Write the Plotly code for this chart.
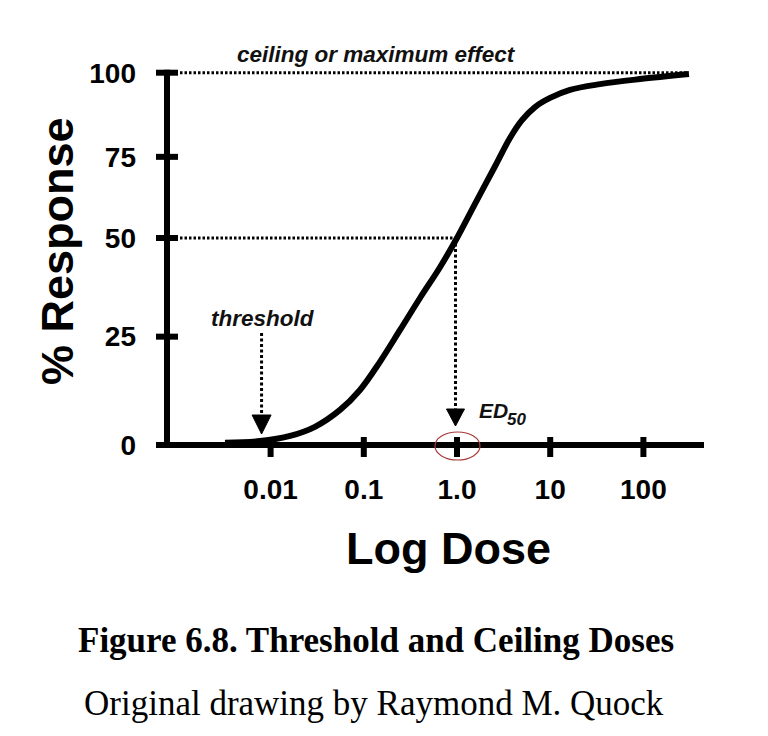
import numpy as np
import plotly.graph_objects as go

# ---------------- data ----------------
curve_dose = [0.00324, 0.00769, 0.0162, 0.0299, 0.0556, 0.091, 0.149, 0.245, 0.401,
              0.657, 1.0, 1.56, 2.56, 3.70, 4.98, 6.87, 9.96, 16.3, 34.2, 91.8, 308]
curve_response = [0.5, 0.9, 2.1, 4.2, 8.1, 12.7, 19.2, 26.7, 34.8,
                  42.6, 50.0, 60.5, 72.1, 80.6, 85.9, 89.8, 92.5, 94.9, 96.6, 98.1, 99.6]

dose_ticks = [0.01, 0.1, 1.0, 10, 100]
dose_labels = ["0.01", "0.1", "1.0", "10", "100"]
response_ticks = [0, 25, 50, 75, 100]
response_labels = ["0", "25", "50", "75", "100"]
# the hand-drawn axis places its ticks unevenly (position on a 0-100 axis length)
response_tick_pos = [0, 29.1, 55.6, 77.4, 100]

threshold_dose = 0.008
ed50_dose = 1.0
ed50_response = 50
ceiling_response = 100

# ---------------- layout geometry ----------------
W, H = 768, 736
L, R, T, B = 145, 17, 32, 266
PX_PER_DECADE = 93.2
X_ORIGIN_PX = 457.0          # pixel of dose 1.0
Y_ZERO_PX, Y_FULL_PX = 445.0, 72.7


def X(px):
    return (px - X_ORIGIN_PX) / PX_PER_DECADE


def Y(py):
    return (Y_ZERO_PX - py) / (Y_ZERO_PX - Y_FULL_PX) * 100


def PX(px):
    return (px - L) / (W - L - R)


def PY(py):
    return (H - B - py) / (H - B - T)


def ypos(r):
    return np.interp(r, response_ticks, response_tick_pos)


lx = np.log10(curve_dose)
ly = ypos(np.array(curve_response))

AXIS_X = X(167)
SANS = "Liberation Sans, Arial, sans-serif"
SERIF = "Liberation Serif, Times New Roman, serif"

fig = go.Figure()
fig.add_trace(go.Scatter(x=lx, y=ly, mode="lines",
                         line=dict(color="black", width=6, shape="spline", smoothing=1.0),
                         hoverinfo="skip", showlegend=False))

shapes = []
# axes
shapes.append(dict(type="line", xref="x", yref="y", x0=X(156), x1=X(704), y0=0, y1=0,
                   line=dict(color="black", width=6)))
shapes.append(dict(type="line", xref="x", yref="y", x0=AXIS_X, x1=AXIS_X, y0=Y(447), y1=100 + 0.8,
                   line=dict(color="black", width=6)))
# y ticks (crossing)
for v in response_ticks:
    yy = ypos(v)
    shapes.append(dict(type="line", xref="x", yref="y", xsizemode="pixel", xanchor=AXIS_X,
                       x0=-11, x1=11, y0=yy, y1=yy, line=dict(color="black", width=6)))
# x ticks (crossing)
for d in dose_ticks:
    xx = np.log10(d)
    shapes.append(dict(type="line", xref="x", yref="y", ysizemode="pixel", yanchor=0,
                       y0=-12, y1=8, x0=xx, x1=xx, line=dict(color="black", width=6)))
# ceiling dotted line
shapes.append(dict(type="line", xref="x", yref="y", x0=X(180), x1=np.log10(curve_dose[-1]),
                   y0=ypos(ceiling_response), y1=ypos(ceiling_response),
                   line=dict(color="black", width=3, dash="2.5px,2px")))
# 50% dotted line
shapes.append(dict(type="line", xref="x", yref="y", x0=X(180), x1=np.log10(ed50_dose),
                   y0=ypos(ed50_response), y1=ypos(ed50_response),
                   line=dict(color="black", width=3, dash="2.5px,2px")))
# ED50 vertical dotted line
shapes.append(dict(type="line", xref="x", yref="y", x0=np.log10(ed50_dose) - 1.5 / PX_PER_DECADE,
                   x1=np.log10(ed50_dose) - 1.5 / PX_PER_DECADE,
                   y0=ypos(ed50_response), y1=Y(410),
                   line=dict(color="black", width=3, dash="3px,2.5px")))
# threshold vertical dotted line
tx = np.log10(threshold_dose)
shapes.append(dict(type="line", xref="x", yref="y", x0=tx, x1=tx, y0=Y(333), y1=Y(416),
                   line=dict(color="black", width=3, dash="3px,2.5px")))


def tri(cx_px, top_px, tip_px, half_w):
    return dict(type="path", xref="x", yref="y",
                path=f"M {X(cx_px - half_w)},{Y(top_px)} L {X(cx_px + half_w)},{Y(top_px)} "
                     f"L {X(cx_px)},{Y(tip_px)} Z",
                fillcolor="black", line=dict(color="black", width=1))


thr_px = X_ORIGIN_PX + tx * PX_PER_DECADE
shapes.append(tri(thr_px, 415, 434, 9.5))
shapes.append(tri(X_ORIGIN_PX - 1.5, 409, 426, 9))
# red circle around ED50 tick
shapes.append(dict(type="circle", xref="x", yref="y", x0=X(435), x1=X(480), y0=Y(460), y1=Y(432),
                   line=dict(color="#a83a3a", width=1.2)))

annotations = [
    dict(text="ceiling or maximum effect", x=PX(376), y=PY(54), xref="paper", yref="paper",
         showarrow=False, xanchor="center", yanchor="middle",
         font=dict(family=SANS, size=22.5, color="#111", style="italic", weight="bold")),
    dict(text="threshold", x=PX(262.5), y=PY(318), xref="paper", yref="paper",
         showarrow=False, xanchor="center", yanchor="middle",
         font=dict(family=SANS, size=22.5, color="#111", style="italic", weight="bold")),
    dict(text="ED", x=PX(477), y=PY(410), xref="paper", yref="paper",
         showarrow=False, xanchor="left", yanchor="middle",
         font=dict(family=SANS, size=21, color="#111", style="italic", weight="bold")),
    dict(text="50", x=PX(505), y=PY(419), xref="paper", yref="paper",
         showarrow=False, xanchor="left", yanchor="middle",
         font=dict(family=SANS, size=17, color="#111", style="italic", weight="bold")),
    dict(text="% Response", x=PX(57), y=PY(251), xref="paper", yref="paper", textangle=-90,
         showarrow=False, xanchor="center", yanchor="middle",
         font=dict(family=SANS, size=45, color="black", weight="bold")),
    dict(text="Log Dose", x=PX(448), y=PY(548), xref="paper", yref="paper",
         showarrow=False, xanchor="center", yanchor="middle",
         font=dict(family=SANS, size=45, color="black", weight="bold")),
    dict(text="Figure 6.8. Threshold and Ceiling Doses", x=PX(375.5), y=PY(640), xref="paper",
         yref="paper", showarrow=False, xanchor="center", yanchor="middle",
         font=dict(family=SERIF, size=35, color="black", weight="bold")),
    dict(text="Original drawing by Raymond M. Quock", x=PX(374), y=PY(703), xref="paper",
         yref="paper", showarrow=False, xanchor="center", yanchor="middle",
         font=dict(family=SERIF, size=35, color="black")),
]

fig.update_layout(
    width=W, height=H,
    margin=dict(l=L, r=R, t=T, b=B, autoexpand=False),
    paper_bgcolor="white", plot_bgcolor="white",
    shapes=shapes, annotations=annotations, showlegend=False,
    xaxis=dict(range=[X(L), X(W - R)], tickvals=np.log10(dose_ticks).tolist(), ticktext=dose_labels,
               showgrid=False, zeroline=False, showline=False, ticks="",
               tickfont=dict(family=SANS, size=28, color="black", weight="bold"),
               fixedrange=True),
    yaxis=dict(range=[Y(H - B), Y(T)], tickvals=response_tick_pos, ticktext=response_labels,
               showgrid=False, zeroline=False, showline=False, ticks="",
               ticklabelstandoff=8,
               tickfont=dict(family=SANS, size=28, color="black", weight="bold"),
               fixedrange=True),
)

fig.write_html("out.html")
